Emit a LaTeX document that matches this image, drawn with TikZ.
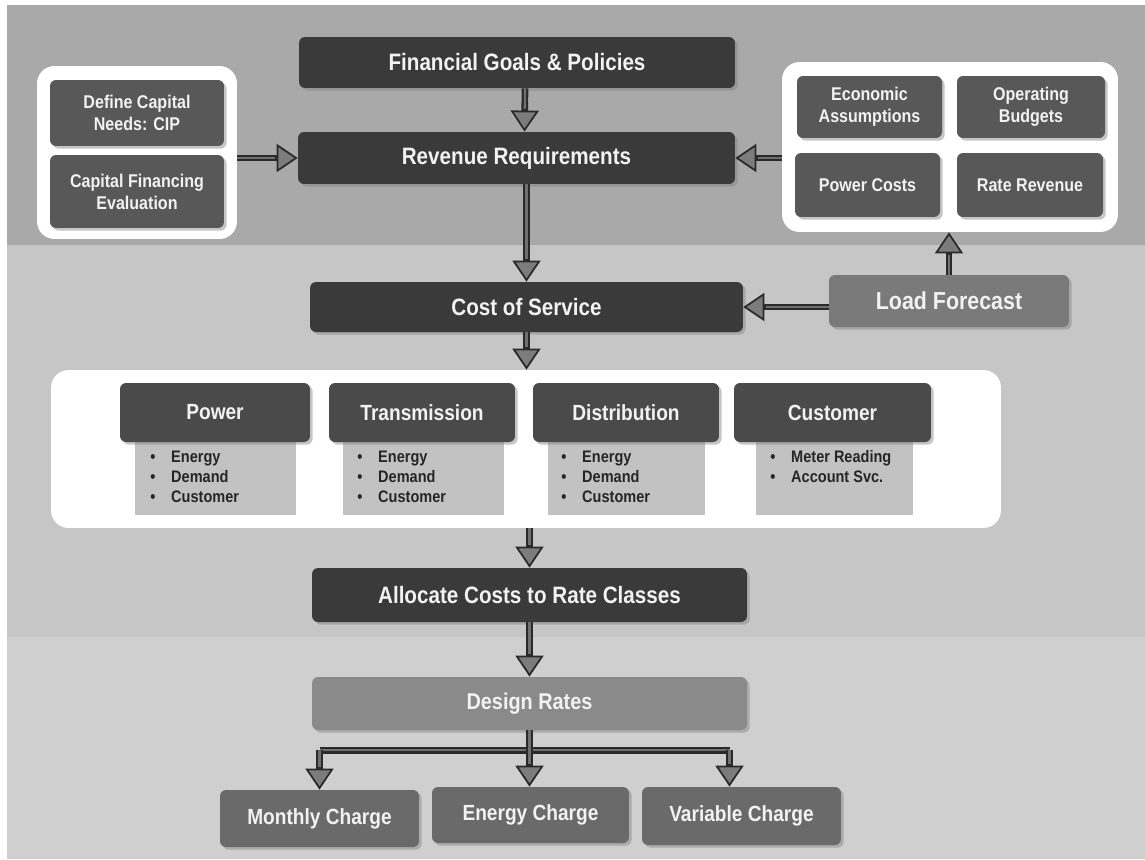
\documentclass[tikz,border=0pt]{standalone}
\usepackage{fontspec}
\setmainfont{Liberation Sans}[FakeStretch=0.87]
\usetikzlibrary{arrows.meta,shadows,calc}
\definecolor{bgtop}{HTML}{A9A9A9}
\definecolor{bgmid}{HTML}{C6C6C6}
\definecolor{bgbot}{HTML}{CFCFCF}
\definecolor{darkbox}{HTML}{3A3A3A}
\definecolor{midbox}{HTML}{585858}
\definecolor{headbox}{HTML}{4A4A4A}
\definecolor{panel}{HTML}{C2C2C2}
\definecolor{lfbox}{HTML}{7A7A7A}
\definecolor{drbox}{HTML}{8A8A8A}
\definecolor{chbox}{HTML}{6A6A6A}
\definecolor{txtw}{HTML}{F2F2F2}
\definecolor{arrowdark}{HTML}{2A2A2A}
\definecolor{arrowmid}{HTML}{707070}
\definecolor{arrowfill}{HTML}{7C7C7C}
\tikzset{
  box/.style={rounded corners=0.12cm, text=txtw, align=center, inner sep=0pt,
    font=\bfseries, drop shadow={shadow xshift=1.5pt, shadow yshift=-1.5pt, opacity=0.45}},
  mainbox/.style={box, fill=darkbox, font=\fontsize{13.5}{15}\bfseries},
  smallbox/.style={box, fill=midbox, font=\fontsize{10.5}{12.5}\bfseries},
  headbx/.style={box, fill=headbox, font=\fontsize{12.5}{14}\bfseries},
  chargebox/.style={box, fill=chbox, font=\fontsize{12.5}{14}\bfseries},
  whitebox/.style={rounded corners=0.35cm, fill=white, inner sep=0pt},
  panelbx/.style={fill=panel, inner sep=0pt},
  bullettxt/.style={text=black!85, font=\fontsize{9.5}{11.5}\bfseries, align=left, anchor=north west, inner sep=0pt},
  flow/.style={draw=arrowdark, line width=3.8pt,
    -{Triangle[length=12pt,width=16pt,line width=1pt,fill=arrowfill]},
    postaction={draw=arrowmid, line width=1.2pt, -, shorten >=13pt}},
  shaft/.style={draw=arrowdark, line width=3.8pt,
    postaction={draw=arrowmid, line width=1.2pt}}
}
\newcommand\blist[1]{\begin{tabular}{@{}l@{\hspace{9pt}}l@{}}#1\end{tabular}}
\begin{document}
\begin{tikzpicture}[x=0.02cm,y=-0.02cm]
\useasboundingbox (0,0) rectangle (1145,859);
\fill[white] (0,0) rectangle (1145,859);
\fill[bgtop] (7,5) rectangle (1145,245);
\fill[bgmid] (7,245) rectangle (1145,637);
\fill[bgbot] (7,637) rectangle (1145,859);

% top
\node[mainbox, minimum width=8.72cm, minimum height=1.02cm] (fin) at (517,62.5) {Financial Goals \& Policies};
\node[mainbox, minimum width=8.74cm, minimum height=1.04cm] (rev) at (516.5,158) {Revenue Requirements};

% left group
\node[whitebox, minimum width=4.0cm, minimum height=3.46cm] (lw) at (137,152.5) {};
\node[smallbox, minimum width=3.48cm, minimum height=1.32cm] (dcap) at (137,113) {Define Capital\\Needs: CIP};
\node[smallbox, minimum width=3.48cm, minimum height=1.46cm] (cfin) at (137,191.5) {Capital Financing\\Evaluation};

% right group
\node[whitebox, minimum width=6.72cm, minimum height=3.4cm] (rw) at (950,147) {};
\node[smallbox, minimum width=2.9cm, minimum height=1.24cm] (eco) at (869.5,107) {Economic\\Assumptions};
\node[smallbox, minimum width=2.96cm, minimum height=1.24cm] (opb) at (1031,107) {Operating\\Budgets};
\node[smallbox, minimum width=2.9cm, minimum height=1.28cm] (pwc) at (867.5,185) {Power Costs};
\node[smallbox, minimum width=2.92cm, minimum height=1.28cm] (rrv) at (1030,185) {Rate Revenue};

% middle
\node[box, fill=lfbox, font=\fontsize{14}{16}\bfseries, minimum width=4.8cm, minimum height=1.04cm] (lf) at (949,301) {Load Forecast};
\node[mainbox, minimum width=8.66cm, minimum height=1.0cm] (cos) at (526.5,307) {Cost of Service};

% functional categories
\node[whitebox, minimum width=19.0cm, minimum height=3.16cm] (bw) at (526,449) {};
\node[panelbx, minimum width=3.22cm, minimum height=1.5cm] (pp) at (215.5,477.5) {};
\node[panelbx, minimum width=3.22cm, minimum height=1.5cm] (pt) at (423.5,477.5) {};
\node[panelbx, minimum width=3.14cm, minimum height=1.5cm] (pd) at (626.5,477.5) {};
\node[panelbx, minimum width=3.14cm, minimum height=1.5cm] (pc) at (834.5,477.5) {};
\node[headbx, minimum width=3.8cm, minimum height=1.18cm] (hp) at (215,412.5) {Power};
\node[headbx, minimum width=3.72cm, minimum height=1.18cm] (ht) at (422,412.5) {Transmission};
\node[headbx, minimum width=3.72cm, minimum height=1.18cm] (hd) at (626,412.5) {Distribution};
\node[headbx, minimum width=3.94cm, minimum height=1.18cm] (hc) at (832.5,412.5) {Customer};
\node[bullettxt] (bp) at (150,448) {\blist{\textbullet & Energy\\ \textbullet & Demand\\ \textbullet & Customer}};
\node[bullettxt] (bt) at (357,448) {\blist{\textbullet & Energy\\ \textbullet & Demand\\ \textbullet & Customer}};
\node[bullettxt] (bd) at (561,448) {\blist{\textbullet & Energy\\ \textbullet & Demand\\ \textbullet & Customer}};
\node[bullettxt] (bc) at (770,448) {\blist{\textbullet & Meter Reading\\ \textbullet & Account Svc.}};

% lower
\node[mainbox, minimum width=8.7cm, minimum height=1.08cm] (alloc) at (529.5,595) {Allocate Costs to Rate Classes};
\node[box, fill=drbox, font=\fontsize{13}{15}\bfseries, minimum width=8.7cm, minimum height=1.06cm] (dr) at (529.5,703.5) {Design Rates};
\node[chargebox, minimum width=3.98cm, minimum height=1.14cm] (mc) at (319.5,818.5) {Monthly Charge};
\node[chargebox, minimum width=3.94cm, minimum height=1.12cm] (ec) at (530.5,815) {Energy Charge};
\node[chargebox, minimum width=3.98cm, minimum height=1.16cm] (vc) at (741.5,816) {Variable Charge};

% connectors
\draw[flow] ($(fin.south)+(8,0)$) -- ($(rev.north)+(8,0)$);
\draw[flow] (rev.south -| cos.north) -- (cos.north);
\draw[flow] (lw.east |- rev.west) -- (rev.west);
\draw[flow] (rw.west |- rev.east) -- (rev.east);
\draw[flow] (lf.west |- cos.east) -- (cos.east);
\draw[flow] (lf.north) -- (lf.north |- rw.south);
\draw[flow] (cos.south) -- (cos.south |- bw.north);
\draw[flow] (alloc.north |- bw.south) -- (alloc.north);
\draw[flow] (alloc.south) -- (dr.north);
\coordinate (bm) at ($(dr.south)+(0,20)$);
\coordinate (b1) at (mc.north |- bm);
\coordinate (b3) at ($(vc.north |- bm)+(-12,0)$);
\draw[shaft] (b1) -- (b3);
\draw[flow] (dr.south) -- (dr.south |- ec.north);
\draw[flow] (b1) -- (mc.north);
\draw[flow] (b3) -- (b3 |- vc.north);
\end{tikzpicture}
\end{document}
